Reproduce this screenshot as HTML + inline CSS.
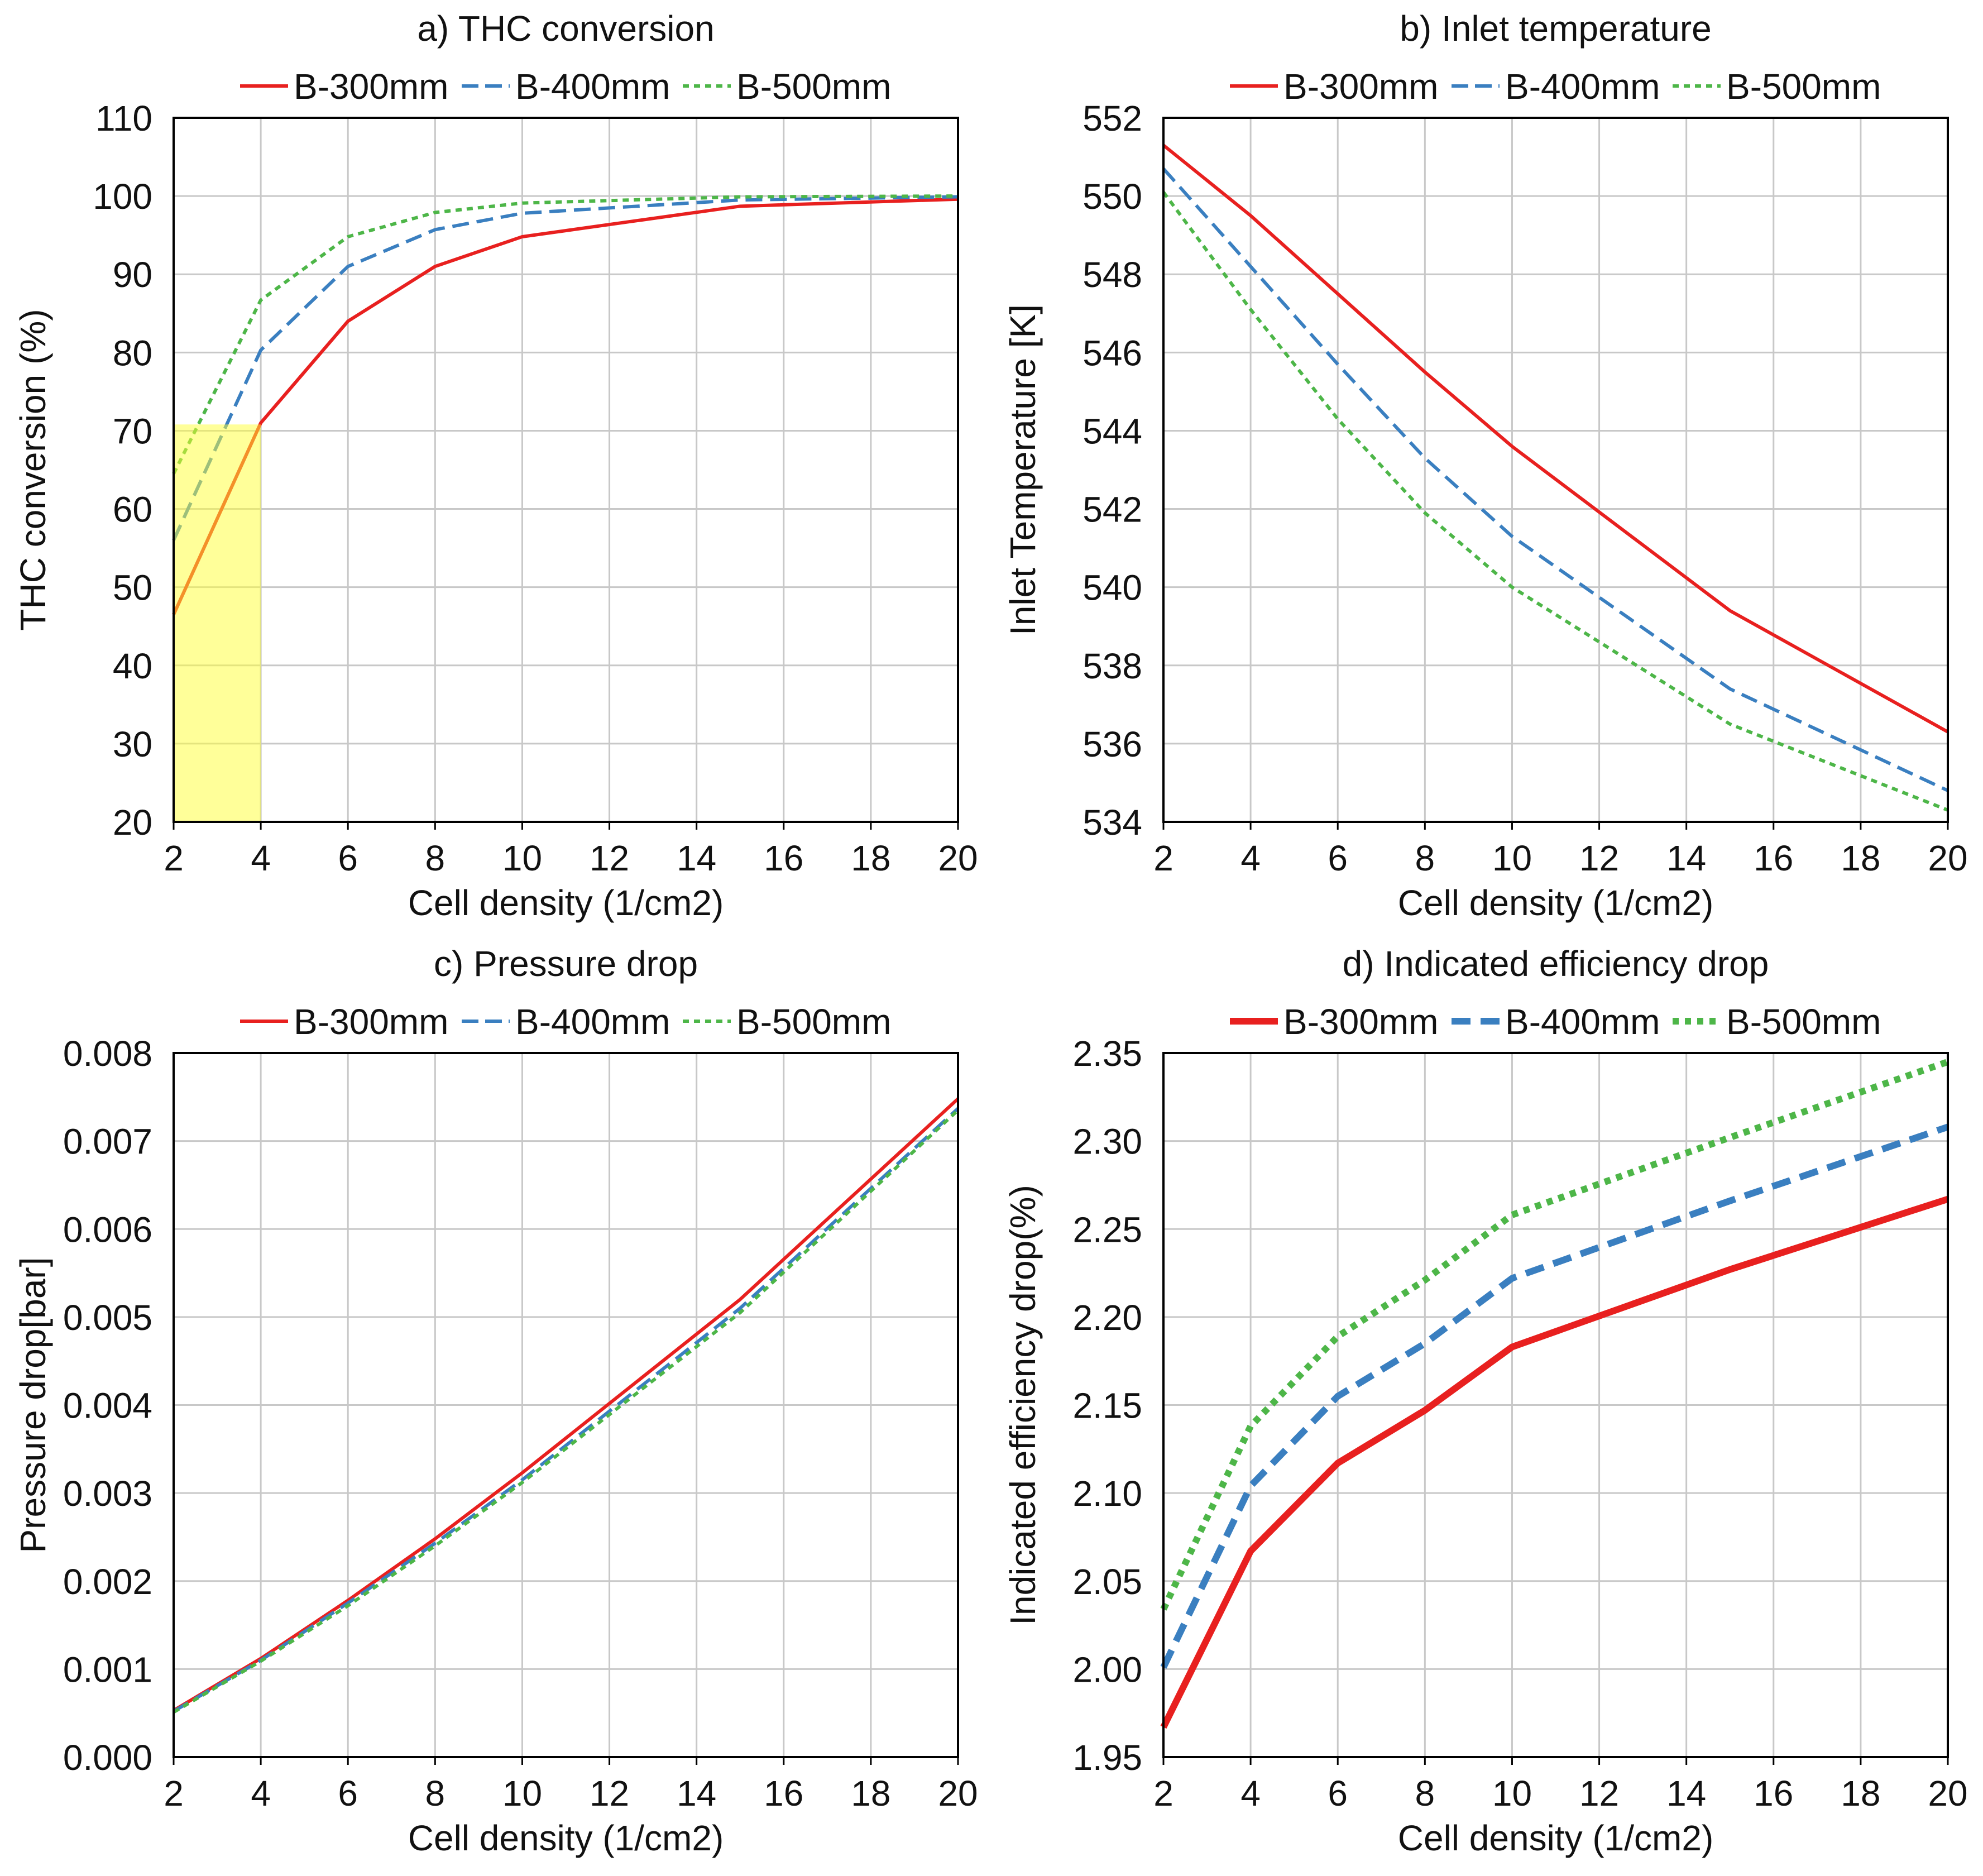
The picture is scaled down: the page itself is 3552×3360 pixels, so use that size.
<!DOCTYPE html>
<html><head><meta charset="utf-8"><style>
html,body{margin:0;padding:0;background:#fff;}
svg{display:block;font-family:"Liberation Sans",Arial,sans-serif;}
</style></head><body>
<svg id="chart" width="3552" height="3360" viewBox="0 0 3552 3360" xmlns="http://www.w3.org/2000/svg"></svg>
<script>
const xVals = [2,4,6,8,10,15,20];
const xTicks = [2,4,6,8,10,12,14,16,18,20];
const seriesNames = ["B-300mm","B-400mm","B-500mm"];
const thcRed = [46.5,71,84,91,94.8,98.7,99.6];
const thcBlue = [56,80.3,91,95.7,97.8,99.5,99.9];
const thcGreen = [64.5,86.7,94.8,97.9,99.1,99.9,100];
const thcTicks = [20,30,40,50,60,70,80,90,100,110];
const tempRed = [551.3,549.5,547.5,545.5,543.6,539.4,536.3];
const tempBlue = [550.7,548.2,545.7,543.3,541.3,537.4,534.8];
const tempGreen = [550.1,547.1,544.3,541.9,540.0,536.5,534.3];
const tempTicks = [534,536,538,540,542,544,546,548,550,552];
const pdRed = [0.00053,0.00112,0.00178,0.00248,0.00323,0.0052,0.00748];
const pdBlue = [0.00052,0.0011,0.00175,0.00243,0.00315,0.0051,0.00737];
const pdGreen = [0.00051,0.00109,0.00172,0.0024,0.00312,0.00505,0.00735];
const pdTicks = [0,0.001,0.002,0.003,0.004,0.005,0.006,0.007,0.008];
const effRed = [1.967,2.067,2.117,2.147,2.183,2.227,2.267];
const effBlue = [2.001,2.104,2.155,2.185,2.222,2.266,2.308];
const effGreen = [2.034,2.138,2.189,2.221,2.258,2.302,2.345];
const effTicks = [1.95,2.00,2.05,2.10,2.15,2.20,2.25,2.30,2.35];
const highlightX = [2,4];
const highlightY = [20,70.8];

const NS="http://www.w3.org/2000/svg";
const svg=document.getElementById('chart');
function mk(tag,attrs,parent){const e=document.createElementNS(NS,tag);for(const k in attrs)e.setAttribute(k,attrs[k]);(parent||svg).appendChild(e);return e;}
const colors=["#e8201f","#3a7fc0","#4db648"];
const FS=64;

function panel(o){
  const g=mk('g',{});
  
  
  const L=o.left,R=o.left+1405,T=o.top,B=o.top+1261;
  const xs=v=>L+(v-2)/18*(R-L);
  const ymin=o.ticks[0],ymax=o.ticks[o.ticks.length-1];
  const ys=v=>B-(v-ymin)/(ymax-ymin)*(B-T);
  o.ticks.forEach(t=>{const l=mk('line',{x1:L,x2:R,y1:ys(t),y2:ys(t),stroke:'#c8c8c8','stroke-width':3},g);
    });
  xTicks.forEach(t=>{const l=mk('line',{x1:xs(t),x2:xs(t),y1:T,y2:B,stroke:'#c8c8c8','stroke-width':3},g);
    });
  const dashes=[null,o.thick?'34 18':'30 14',o.thick?'11 11':'11 9'];
  const sw=o.thick?12:6;
  o.series.forEach((s,i)=>{
    const pts=s.map((v,j)=>xs(xVals[j])+','+ys(v)).join(' ');
    const p=mk('polyline',{points:pts,fill:'none',stroke:colors[i],'stroke-width':sw,'stroke-linejoin':'round'},g);
    if(dashes[i])p.setAttribute('stroke-dasharray',dashes[i]);
    
    
  });
  if(o.highlight){
    const r=mk('rect',{x:xs(highlightX[0]),y:ys(highlightY[1]),width:xs(highlightX[1])-xs(highlightX[0]),height:ys(highlightY[0])-ys(highlightY[1]),fill:'#ffff33','fill-opacity':0.5},g);
    
  }
  const fr=mk('rect',{x:L,y:T,width:R-L,height:B-T,fill:'none',stroke:'#000','stroke-width':4},g);
  
  xTicks.forEach(t=>{mk('line',{x1:xs(t),x2:xs(t),y1:B,y2:B+14,stroke:'#000','stroke-width':3},g);
    const tx=mk('text',{x:xs(t),y:B+87,'font-size':FS,'text-anchor':'middle',fill:'#111'},g);tx.textContent=t;
    });
  o.ticks.forEach(t=>{const tx=mk('text',{x:L-38,y:ys(t)+23,'font-size':FS,'text-anchor':'end',fill:'#111'},g);tx.textContent=t.toFixed(o.dec);
    });
  const xt=mk('text',{x:(L+R)/2,y:B+167,'font-size':FS,'text-anchor':'middle',fill:'#111'},g);xt.textContent='Cell density (1/cm2)';
  
  const cy=(T+B)/2, ax=L-230;
  const yt=mk('text',{x:ax,y:cy,'font-size':FS,'text-anchor':'middle',fill:'#111',transform:`rotate(-90 ${ax} ${cy})`},g);yt.textContent=o.ytitle;
  
  const ti=mk('text',{x:(L+R)/2,y:T-138,'font-size':FS,'text-anchor':'middle',fill:'#111'},g);ti.textContent=o.title;
  
  const ly=T-57, lx0=L+119;
  const offs=[0,397,793];
  seriesNames.forEach((n,i)=>{
    const lg=mk('g',{},g);
    
    const l=mk('line',{x1:lx0+offs[i],x2:lx0+offs[i]+86,y1:ly,y2:ly,stroke:colors[i],'stroke-width':sw},lg);
    if(dashes[i])l.setAttribute('stroke-dasharray',i===1?(o.thick?'34 18':'30 12'):(o.thick?'11 11':'11 9'));
    const t=mk('text',{x:lx0+offs[i]+96,y:ly+23,'font-size':FS,fill:'#111'},lg);t.textContent=n;
  });
}
panel({name:'panel-thc-conversion',left:311,top:211,ticks:thcTicks,dec:0,series:[thcRed,thcBlue,thcGreen],title:'a) THC conversion',ytitle:'THC conversion (%)',highlight:true});
panel({name:'panel-inlet-temperature',left:2084,top:211,ticks:tempTicks,dec:0,series:[tempRed,tempBlue,tempGreen],title:'b) Inlet temperature',ytitle:'Inlet Temperature [K]'});
panel({name:'panel-pressure-drop',left:311,top:1886,ticks:pdTicks,dec:3,series:[pdRed,pdBlue,pdGreen],title:'c) Pressure drop',ytitle:'Pressure drop[bar]'});
panel({name:'panel-efficiency-drop',left:2084,top:1886,ticks:effTicks,dec:2,series:[effRed,effBlue,effGreen],title:'d) Indicated efficiency drop',ytitle:'Indicated efficiency drop(%)',thick:true});
</script>
</body></html>
